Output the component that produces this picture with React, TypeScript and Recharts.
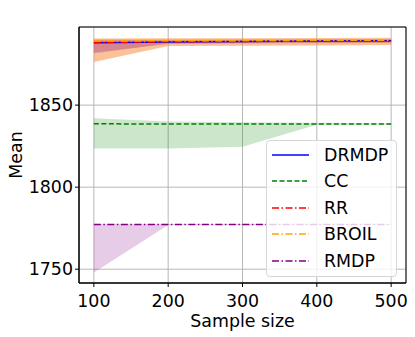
import React from "react";
import {
  Area,
  CartesianGrid,
  ComposedChart,
  Label,
  Line,
  ReferenceArea,
  XAxis,
  YAxis,
} from "recharts";

const sampleSizes = [100, 200, 300, 400, 500];

const drmdpMean = [1888.0, 1888.5, 1888.7, 1889.0, 1889.2];
const drmdpLow = [1881.5, 1887.6, 1887.8, 1888.0, 1888.2];
const drmdpHigh = [1889.6, 1889.5, 1889.6, 1889.8, 1890.0];

const ccMean = [1838.6, 1838.5, 1838.5, 1838.5, 1838.5];
const ccLow = [1823.6, 1823.6, 1824.6, 1838.1, 1838.2];
const ccHigh = [1842.0, 1840.0, 1839.6, 1839.2, 1839.0];

const rrMean = [1888.2, 1888.6, 1888.8, 1889.0, 1889.2];
const rrLow = [1882.0, 1887.3, 1887.5, 1887.7, 1887.9];
const rrHigh = [1890.0, 1890.0, 1890.1, 1890.2, 1890.3];

const broilMean = [1889.0, 1889.2, 1889.3, 1889.5, 1889.6];
const broilLow = [1876.2, 1886.0, 1886.2, 1886.4, 1886.6];
const broilHigh = [1890.6, 1890.8, 1890.8, 1890.9, 1891.0];

const rmdpMean = [1777.2, 1777.2, 1777.2, 1777.2, 1777.2];
const rmdpLow = [1748.0, 1776.9, 1776.9, 1776.9, 1776.9];
const rmdpHigh = [1777.5, 1777.5, 1777.5, 1777.5, 1777.5];

const xTicks = [100, 200, 300, 400, 500];
const yTicks = [1750, 1800, 1850];
const xDomain = [80, 520];
const yDomain = [1741.6, 1897.6];

const FONT = "DejaVu Sans, sans-serif";

const series = [
  { key: "drmdp", name: "DRMDP", color: "#0000ff", dash: undefined, band: "#0000ff", bandOpacity: 0.15 },
  { key: "cc", name: "CC", color: "#008000", dash: "5 2.5", band: "#008000", bandOpacity: 0.2 },
  { key: "rr", name: "RR", color: "#ff0000", dash: "7 2.5 1.5 2.5", band: "#ff0000", bandOpacity: 0.18 },
  { key: "broil", name: "BROIL", color: "#ffa500", dash: "7 2.5 1.5 2.5", band: "#f98e3c", bandOpacity: 0.55 },
  { key: "rmdp", name: "RMDP", color: "#800080", dash: "7 2.5 1.5 2.5", band: "#800080", bandOpacity: 0.2 },
];

const data = sampleSizes.map((x, i) => ({
  x,
  drmdp: drmdpMean[i],
  drmdpBand: [drmdpLow[i], drmdpHigh[i]],
  cc: ccMean[i],
  ccBand: [ccLow[i], ccHigh[i]],
  rr: rrMean[i],
  rrBand: [rrLow[i], rrHigh[i]],
  broil: broilMean[i],
  broilBand: [broilLow[i], broilHigh[i]],
  rmdp: rmdpMean[i],
  rmdpBand: [rmdpLow[i], rmdpHigh[i]],
}));

const bandOrder = ["broil", "rr", "drmdp", "cc", "rmdp"];

const ChartLegend = () => (
  <div
    style={{
      position: "absolute",
      left: 266,
      top: 140,
      width: 129,
      height: 135,
      background: "rgba(255,255,255,0.8)",
      border: "1px solid #d6d6d6",
      borderRadius: 4,
      fontFamily: FONT,
      fontSize: 17.4,
      color: "#000",
    }}
  >
    {series.map((s, i) => (
      <div
        key={s.key}
        style={{ position: "absolute", left: 0, top: 0.5 + i * 26.5, height: 26, width: 129 }}
      >
        <svg width={50} height={26} style={{ position: "absolute", left: 0, top: 0 }}>
          <line
            x1={5}
            x2={42}
            y1={13}
            y2={13}
            stroke={s.color}
            strokeWidth={1.5}
            strokeDasharray={s.dash}
          />
        </svg>
        <span style={{ position: "absolute", left: 57, top: 2, lineHeight: "22px", whiteSpace: "nowrap" }}>
          {s.name}
        </span>
      </div>
    ))}
  </div>
);

const YLabel = (props: any) => {
  const vb = props.viewBox || {};
  const cy = vb.y + vb.height / 2;
  return (
    <text
      x={21.5}
      y={cy}
      transform={`rotate(-90, 21.5, ${cy})`}
      textAnchor="middle"
      fontFamily={FONT}
      fontSize={17.4}
      fill="#000"
    >
      Mean
    </text>
  );
};

export default function App() {
  return (
    <div style={{ position: "absolute", left: 0, top: 0, width: 415, height: 337, background: "#fff" }}>
      <ComposedChart
        width={415}
        height={337}
        data={data}
        margin={{ top: 27, right: 9, left: 0, bottom: 4 }}
      >
        <CartesianGrid stroke="#b0b0b0" strokeWidth={0.9} />
        <XAxis
          dataKey="x"
          type="number"
          domain={xDomain}
          ticks={xTicks}
          allowDataOverflow
          height={50}
          tickSize={4}
          tickMargin={8}
          stroke="#000"
          tick={{ fill: "#000", fontSize: 17.4, fontFamily: FONT }}
        >
          <Label
            value="Sample size"
            position="insideBottom"
            offset={6}
            fill="#000"
            fontSize={17.4}
            fontFamily={FONT}
          />
        </XAxis>
        <YAxis
          type="number"
          domain={yDomain}
          ticks={yTicks}
          allowDataOverflow
          width={79}
          tickSize={4}
          tickMargin={2}
          stroke="#000"
          tick={{ fill: "#000", fontSize: 17.4, fontFamily: FONT }}
        >
          <Label content={<YLabel />} position="left" />
        </YAxis>
        {bandOrder.map((k) => {
          const s = series.find((q) => q.key === k)!;
          return (
            <Area
              key={k + "Band"}
              type="linear"
              dataKey={k + "Band"}
              stroke="none"
              fill={s.band}
              fillOpacity={s.bandOpacity}
              isAnimationActive={false}
              legendType="none"
              activeDot={false}
            />
          );
        })}
        {series.map((s) => (
          <Line
            key={s.key}
            type="linear"
            dataKey={s.key}
            name={s.name}
            stroke={s.color}
            strokeWidth={1.5}
            strokeDasharray={s.dash}
            dot={false}
            activeDot={false}
            isAnimationActive={false}
          />
        ))}
        <ReferenceArea
          x1={xDomain[0]}
          x2={xDomain[1]}
          y1={yDomain[0]}
          y2={yDomain[1]}
          fill="none"
          stroke="#000"
          strokeWidth={1}
          ifOverflow="visible"
        />
      </ComposedChart>
      <ChartLegend />
    </div>
  );
}
